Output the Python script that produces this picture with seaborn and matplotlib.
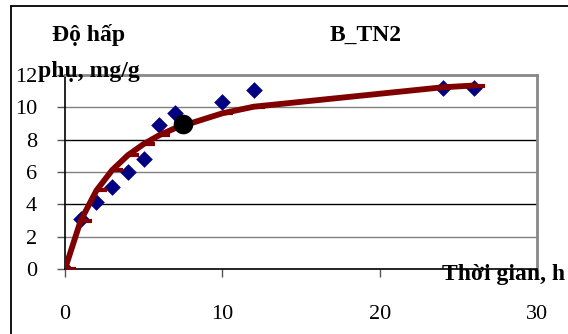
import matplotlib
matplotlib.use("Agg")
import matplotlib.pyplot as plt
import seaborn as sns
import pandas as pd
from matplotlib.lines import Line2D

# ---- data ----
t_obs = [0, 1, 2, 3, 4, 5, 6, 7, 10, 12, 24, 26]
q_obs = [0.0, 3.1, 4.15, 5.1, 6.0, 6.8, 8.9, 9.65, 10.3, 11.1, 11.2, 11.2]
t_fit = [0, 1, 2, 3, 4, 5, 6, 7, 10, 12, 24, 26]
q_fit = [0.0, 3.0, 4.86, 6.12, 7.04, 7.73, 8.28, 8.71, 9.63, 10.04, 11.24, 11.35]
t_mark = [7.5]
q_mark = [8.95]
x_ticks = [0, 10, 20, 30]
y_ticks = [0, 2, 4, 6, 8, 10, 12]

title = "B_TN2"
ylab1 = "Độ hấp"
ylab2 = "phụ, mg/g"
xlab = "Thời gian, h"

sns.set_theme(style="white")
plt.rcParams["font.family"] = ["Liberation Serif", "DejaVu Serif"]

W, H = 568, 334
fig = plt.figure(figsize=(W / 100, H / 100), dpi=100)
L, R, T, B = 65, 537, 75, 269
ax = fig.add_axes([L / W, 1 - B / H, (R - L) / W, (B - T) / H])

obs = pd.DataFrame({"t": t_obs, "q": q_obs})
fit = pd.DataFrame({"t": t_fit, "q": q_fit})
mk = pd.DataFrame({"t": t_mark, "q": q_mark})

# grid lines (alternating gray / black as in reference)
for v in y_ticks[1:-1]:
    c = "#000000" if v in (4, 8) else "#808080"
    ax.axhline(v, color=c, lw=1.0, zorder=0.5)

sns.scatterplot(data=obs, x="t", y="q", ax=ax, marker="D", s=72,
                color="#000080", edgecolor="#000080", linewidth=0, zorder=3)
sns.lineplot(data=fit, x="t", y="q", ax=ax, color="#800000", lw=4.2,
             zorder=4, sort=False)
dash = [(0, 0), (1, 0)]
ax.plot(t_fit, q_fit, linestyle="none", marker=dash, markersize=16,
        markeredgewidth=3.0, markeredgecolor="#800000", zorder=4)
sns.scatterplot(data=mk, x="t", y="q", ax=ax, marker="o", s=200,
                color="black", edgecolor="black", linewidth=0, zorder=5)

ax.set_xlim(0, 30)
ax.set_ylim(0, 12)
ax.set_xticks(x_ticks)
ax.set_yticks(y_ticks)
ax.set_xlabel("")
ax.set_ylabel("")
ax.tick_params(axis="both", labelsize=16, colors="black", length=6,
               width=1, direction="out")
ax.tick_params(axis="x", pad=20, color="#555555")
ax.tick_params(axis="y", pad=14, color="#555555")
ax.xaxis.set_ticks_position("bottom")
ax.yaxis.set_ticks_position("left")
for s in ("left", "bottom"):
    ax.spines[s].set_color("black")
    ax.spines[s].set_linewidth(1.2)
for s in ("top", "right"):
    ax.spines[s].set_color("#888888")
    ax.spines[s].set_linewidth(2.0)
for s in ax.spines.values():
    s.set_visible(True)
ax.set_facecolor("white")

fw = dict(fontsize=17, fontweight="bold", color="black")
fig.text(89 / W, 1 - 35 / H, ylab1, ha="center", va="center", **fw)
fig.text(89 / W, 1 - 72 / H, ylab2, ha="center", va="center", zorder=10, **fw)
fig.text(366 / W, 1 - 35 / H, title, ha="center", va="center", **fw)
fig.text(442 / W, 1 - 280 / H, xlab, ha="left", va="baseline", **fw)

# outer chart frame (only left and top visible)
fig.add_artist(Line2D([11 / W, 11 / W], [0, 1 - 6 / H], color="black",
                      lw=1.3, transform=fig.transFigure))
fig.add_artist(Line2D([11 / W, 1], [1 - 6 / H, 1 - 6 / H], color="black",
                      lw=1.3, transform=fig.transFigure))

fig.savefig("out.png", dpi=100, facecolor="white")
